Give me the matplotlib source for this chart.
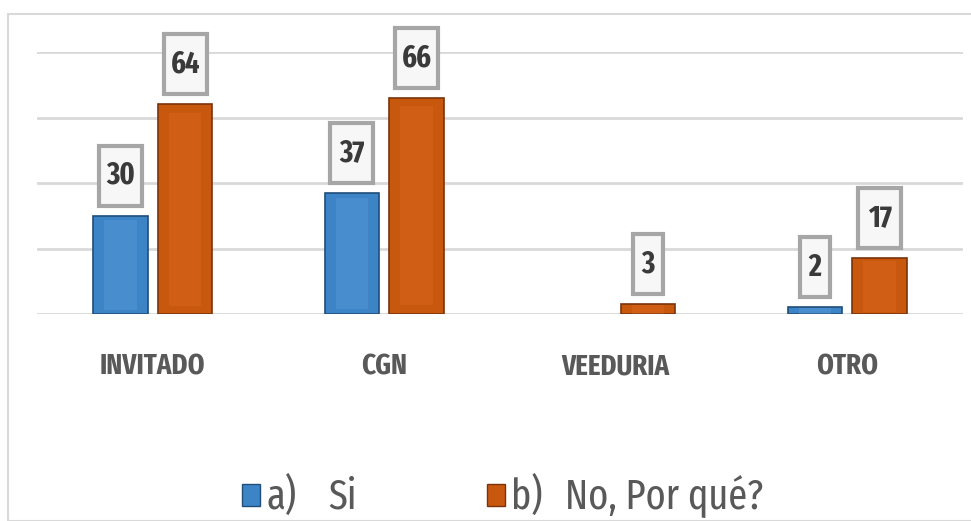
import numpy as np
import matplotlib
matplotlib.use("Agg")
import matplotlib.pyplot as plt
from matplotlib.patches import Rectangle

# ── Data ───────────────────────────────────────────────────────
categories   = ["INVITADO", "CGN", "VEEDURIA", "OTRO"]
si_values    = [30, 37, 0, 2]
no_values    = [64, 66, 3, 17]
legend_keys  = ["a)", "b)"]
legend_names = ["Si", "No, Por qué?"]

BLUE   = "#3d84c6"
ORANGE = "#c9580f"
GRID   = "#d9d9d9"
TEXT   = "#595959"
FONT   = ["Fira Sans Extra Condensed", "DejaVu Sans"]

plt.rcParams["font.family"] = FONT

W, H = 971, 521
fig = plt.figure(figsize=(W / 100, H / 100), dpi=100)
ax = fig.add_axes([37 / W, (H - 314) / H, (963 - 37) / W, (314 - 52) / H])

# outer frame of the chart area
fig.patches.append(Rectangle((8 / W, 0), 1.0, (H - 14) / H, transform=fig.transFigure,
                             fill=False, edgecolor=GRID, linewidth=1.5, zorder=0))

x = np.arange(len(categories))
width = 0.235
offset = 0.14

ax.set_xlim(-0.5, len(categories) - 0.5)
ax.set_ylim(0, 80)
ax.set_yticks([0, 20, 40, 60, 80])
ax.yaxis.grid(True, color=GRID, linewidth=2)
ax.set_axisbelow(True)
for s in ax.spines.values():
    s.set_visible(False)
ax.tick_params(axis="y", length=0, labelleft=False)
ax.tick_params(axis="x", length=0, pad=28)
ax.set_xticks(x)
ax.set_xticklabels(categories, fontsize=21, fontweight="bold", color=TEXT)

def draw_bars(xs, vals, face, edge, light):
    bars = ax.bar(xs, vals, width, color=face, edgecolor=edge,
                  linewidth=[1.2 if v else 0 for v in vals])
    # simple bevel: lighter inner strip
    ax.bar(xs, [v * 0.92 for v in vals], width * 0.6, bottom=[v * 0.04 for v in vals],
           color=light, alpha=0.25, linewidth=0)
    return bars

bars_si = draw_bars(x - offset, si_values, BLUE, "#1f4e79", "#6aaee8")
bars_no = draw_bars(x + offset, no_values, ORANGE, "#7a330a", "#e8772a")

# value boxes
px_per_unit = (314 - 52) / 80
px_per_cat = (963 - 37) / 4
gap = 10 / px_per_unit
box_h = 60 / px_per_unit
for bars, vals in ((bars_si, si_values), (bars_no, no_values)):
    for b, v in zip(bars, vals):
        if v == 0:
            continue
        cx = b.get_x() + b.get_width() / 2
        bw = (43 if v >= 10 else 30) / px_per_cat
        y0 = v + gap
        ax.add_patch(Rectangle((cx - bw / 2, y0), bw, box_h, facecolor="#f7f7f7",
                               edgecolor="#a6a6a6", linewidth=3, clip_on=False, zorder=4))
        ax.text(cx, y0 + box_h / 2, str(v), ha="center", va="center", fontsize=22,
                fontweight="bold", color="#3a3a3a", zorder=5, clip_on=False)

# legend
for i, (key, name, face, edge) in enumerate(zip(legend_keys, legend_names,
                                                 [BLUE, ORANGE], ["#1f4e79", "#7a330a"])):
    px = 242 + i * 245
    fig.patches.append(Rectangle((px / W, (H - 506) / H), 18 / W, 22 / H, transform=fig.transFigure,
                                 facecolor=face, edgecolor=edge, linewidth=1))
    fig.text((px + 24) / W, (H - 497) / H, key, fontsize=30, color=TEXT, va="center")
    fig.text((px + 86 - 8 * i) / W, (H - 497) / H, name, fontsize=30, color=TEXT, va="center")

fig.savefig("out.png", dpi=100)
